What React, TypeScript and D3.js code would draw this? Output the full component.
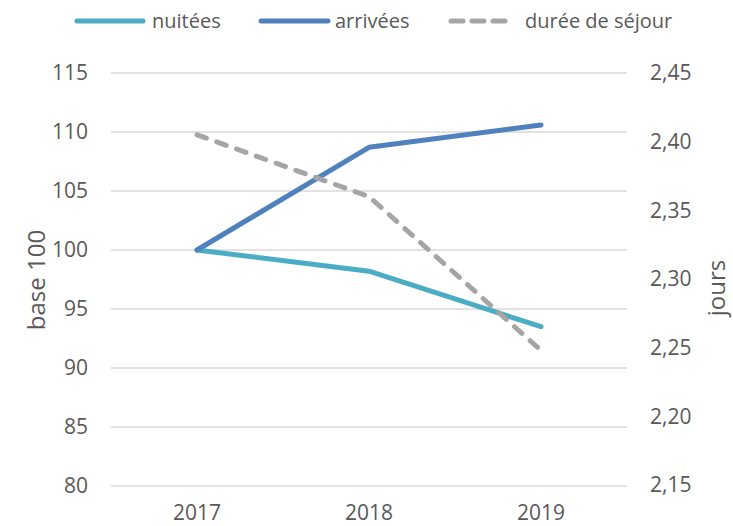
import { useEffect, useRef } from 'react';
import * as d3 from 'd3';

const years = ['2017', '2018', '2019'];
const nuitees = [100, 98.2, 93.5];
const arrivees = [100, 108.7, 110.6];
const dureeSejour = [2.405, 2.36, 2.248];
const leftTicks = [80, 85, 90, 95, 100, 105, 110, 115];
const rightTicks = [2.15, 2.2, 2.25, 2.3, 2.35, 2.4, 2.45];

const FONT = '"Open Sans", sans-serif';
const TEXT = '#595959';

export default function App() {
  const svgRef = useRef<SVGSVGElement>(null);

  useEffect(() => {
    if (!svgRef.current) return;
    const width = 733;
    const height = 526;
    const margin = { top: 73, right: 106, bottom: 40, left: 111 };

    const svg = d3.select(svgRef.current);
    svg.selectAll('*').remove();
    svg.attr('width', width).attr('height', height);

    const x = d3
      .scaleBand()
      .domain(years)
      .range([margin.left, width - margin.right]);
    const yLeft = d3
      .scaleLinear()
      .domain([80, 115])
      .range([height - margin.bottom, margin.top]);
    const yRight = d3
      .scaleLinear()
      .domain([2.15, 2.45])
      .range([height - margin.bottom - 1, margin.top]);

    // gridlines from the left axis
    svg
      .append('g')
      .selectAll('line')
      .data(leftTicks)
      .enter()
      .append('line')
      .attr('x1', margin.left)
      .attr('x2', width - margin.right)
      .attr('y1', d => yLeft(d))
      .attr('y2', d => yLeft(d))
      .attr('stroke', '#d9d9d9')
      .attr('stroke-width', 1.3);

    // left tick labels
    svg
      .append('g')
      .selectAll('text')
      .data(leftTicks)
      .enter()
      .append('text')
      .attr('x', 88)
      .attr('y', d => yLeft(d))
      .attr('dy', '0.35em')
      .attr('text-anchor', 'end')
      .attr('fill', TEXT)
      .style('font-family', FONT)
      .style('font-size', '21px')
      .text(d => d);

    // right tick labels
    const fmt = (v: number) => v.toFixed(2).replace('.', ',');
    svg
      .append('g')
      .selectAll('text')
      .data(rightTicks)
      .enter()
      .append('text')
      .attr('x', 650)
      .attr('y', d => yRight(d))
      .attr('dy', '0.35em')
      .attr('text-anchor', 'start')
      .attr('fill', TEXT)
      .style('font-family', FONT)
      .style('font-size', '21px')
      .text(d => fmt(d));

    // x labels
    svg
      .append('g')
      .selectAll('text')
      .data(years)
      .enter()
      .append('text')
      .attr('x', d => (x(d) as number) + x.bandwidth() / 2)
      .attr('y', 520)
      .attr('text-anchor', 'middle')
      .attr('fill', TEXT)
      .style('font-family', FONT)
      .style('font-size', '21px')
      .text(d => d);

    // axis titles
    svg
      .append('text')
      .attr('transform', `translate(37,280) rotate(-90)`)
      .attr('dy', '0.35em')
      .attr('text-anchor', 'middle')
      .attr('fill', TEXT)
      .style('font-family', FONT)
      .style('font-size', '24px')
      .text('base 100');
    svg
      .append('text')
      .attr('transform', `translate(717,288) rotate(-90)`)
      .attr('dy', '0.35em')
      .attr('text-anchor', 'middle')
      .attr('fill', TEXT)
      .style('font-family', FONT)
      .style('font-size', '24px')
      .text('jours');

    const cx = (d: string) => (x(d) as number) + x.bandwidth() / 2;
    const lineLeft = d3
      .line<number>()
      .x((d, i) => cx(years[i]))
      .y(d => yLeft(d));
    const lineRight = d3
      .line<number>()
      .x((d, i) => cx(years[i]))
      .y(d => yRight(d));

    const series = [
      { name: 'nuitées', values: nuitees, color: '#4bacc6', dashed: false, gen: lineLeft },
      { name: 'arrivées', values: arrivees, color: '#4f81bd', dashed: false, gen: lineLeft },
      { name: 'durée de séjour', values: dureeSejour, color: '#a5a5a5', dashed: true, gen: lineRight },
    ];

    series.forEach(s => {
      svg
        .append('path')
        .datum(s.values)
        .attr('d', s.gen)
        .attr('fill', 'none')
        .attr('stroke', s.color)
        .attr('stroke-width', 5)
        .attr('stroke-linecap', 'round')
        .attr('stroke-linejoin', 'round')
        .attr('stroke-dasharray', s.dashed ? '10,11' : null);
    });

    // legend
    const legendX = [77, 261, 451];
    const legendLen = [66, 67, 59];
    const legendText = [152, 335, 525];
    const legend = svg
      .append('g')
      .selectAll('g')
      .data(series)
      .enter()
      .append('g')
      .attr('transform', (d, i) => `translate(${legendX[i]},21)`);
    legend
      .append('line')
      .attr('x1', 0)
      .attr('x2', (d, i) => legendLen[i])
      .attr('stroke', d => d.color)
      .attr('stroke-width', 5)
      .attr('stroke-linecap', 'round')
      .attr('stroke-dasharray', d => (d.dashed ? '12,9' : null));
    legend
      .append('text')
      .attr('x', (d, i) => legendText[i] - legendX[i])
      .attr('dy', '0.35em')
      .attr('fill', TEXT)
      .style('font-family', FONT)
      .style('font-size', '20px')
      .text(d => d.name);
  }, []);

  return (
    <svg ref={svgRef} style={{ position: 'absolute', left: 0, top: 0, background: '#fff' }} />
  );
}
